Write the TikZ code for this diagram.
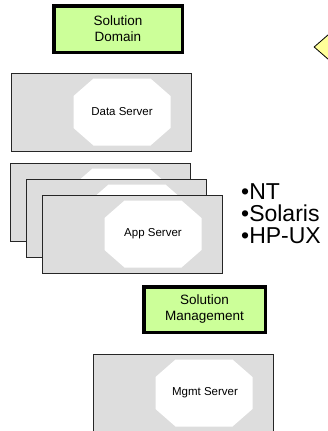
\documentclass[tikz,border=0pt]{standalone}
\usepackage{fontspec}
\setmainfont{Liberation Sans}
\usetikzlibrary{shapes.geometric}

\definecolor{boxgray}{HTML}{DDDDDD}
\definecolor{labelgreen}{HTML}{CCFF99}
\definecolor{markyellow}{HTML}{FFFF99}

\tikzset{
  labelbox/.style={draw=black, line width=3.5pt, fill=labelgreen, align=center,
    inner sep=0pt, font=\fontsize{13.5}{16}\selectfont},
  hostbox/.style={draw=black!85, line width=0.8pt, fill=boxgray},
  octfill/.style={fill=white},
  hosttext/.style={font=\fontsize{11.5}{13}\selectfont, inner sep=0pt},
  ostext/.style={anchor=base west, inner sep=0pt, font=\fontsize{23}{24}\selectfont},
}

% host box 180x78 with its top-left corner at (#1,#2); octagon sits right of centre
\newcommand{\hostframe}[2]{%
  \draw[hostbox] (#1,#2) rectangle ++(180,78);
  \begin{scope}[shift={(#1+111,#2+39)}]
    \fill[octfill] (-48.5,-16) -- (-28.5,-33.5) -- (28.5,-33.5) -- (48.5,-16)
      -- (48.5,16) -- (28.5,33.5) -- (-28.5,33.5) -- (-48.5,16) -- cycle;
  \end{scope}}

\begin{document}
\begin{tikzpicture}[x=1pt, y=-1pt]
  \path[use as bounding box, fill=white] (0,0) rectangle (327,431);

  % section labels
  \node[labelbox, minimum width=128.5, minimum height=46.5] (domain) at (118,29) {Solution\\Domain};
  \node[labelbox, minimum width=121.5, minimum height=45.5] (mgmtlabel) at (204.5,309.5) {Solution\\Management};

  % data server
  \hostframe{11}{73}
  \node[hosttext] (data) at (122,112) {Data Server};

  % stacked application servers
  \hostframe{10}{163}
  \hostframe{26}{179}
  \hostframe{42}{195}
  \node[hosttext] (app) at (153,234) {App Server};

  % management server
  \hostframe{93}{354}
  \node[hosttext] (mgmt) at (205,393) {Mgmt Server};

  % platforms
  \node[ostext] (os1) at (241,199.5) {•NT};
  \node[ostext] (os2) at (241,221.5) {•Solaris};
  \node[ostext] (os3) at (241,243.5) {•HP-UX};

  % decision marker at the right edge
  \node[diamond, draw=black, line width=0.8pt, fill=markyellow, inner sep=0pt,
        minimum width=32, minimum height=28] (marker) at (330,47) {};
\end{tikzpicture}
\end{document}
